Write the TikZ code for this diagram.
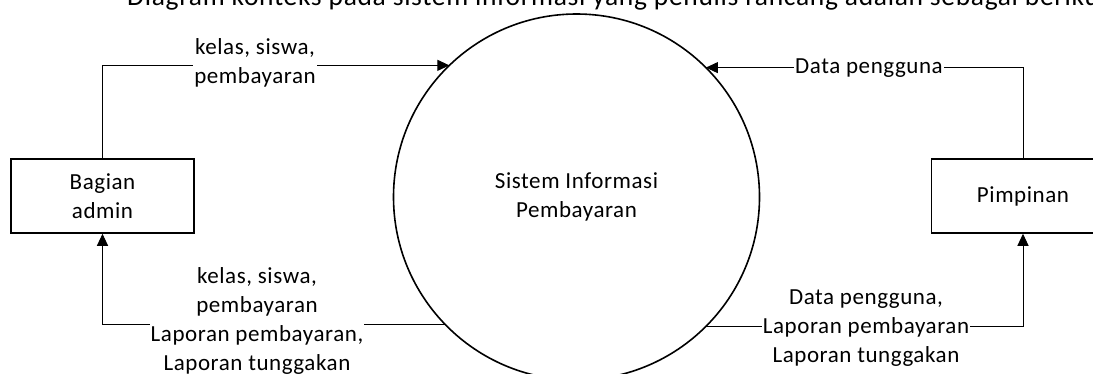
\documentclass[tikz,border=0pt]{standalone}
\usepackage{fontspec}
\setmainfont{Carlito}[LetterSpace=2.5]
\usetikzlibrary{arrows.meta}
\begin{document}
\begin{tikzpicture}[x=1pt,y=-1pt,
  every node/.style={font=\fontsize{23}{29}\selectfont, align=center},
  entity/.style={draw, line width=1.5pt, minimum width=183pt, minimum height=74pt, inner sep=0pt},
  proc/.style={draw, circle, line width=1.6pt, minimum size=366pt, inner sep=0pt, outer sep=0pt},
  flow/.style={line width=1pt, -{Triangle[length=12pt,width=11pt]}},
  lbl/.style={fill=white, inner sep=1pt}]
\useasboundingbox (0,0) rectangle (1093,373);
\node[anchor=base west, inner sep=0pt, font=\fontsize{27.5}{33}\selectfont] (title) at (127,5) {Diagram konteks pada sistem informasi yang penulis rancang adalah sebagai berikut};
\node[proc] (sys) at (576.5,197) {Sistem Informasi\\Pembayaran};
\node[entity] (admin) at (102.5,196) {Bagian\\admin};
\node[entity] (pim) at (1023,196) {Pimpinan};
\draw[flow] (admin.north) |- (sys.134.7);
\draw[flow] (pim.north) |- (sys.45.3);
\draw[flow] (sys.224.4) -| (admin.south);
\draw[flow] (sys.315.6) -| (pim.south);
\node[lbl] (l1) at (255,63) {kelas, siswa,\\pembayaran};
\node[lbl] (l2) at (869,68) {Data pengguna};
\node[lbl] (l3) at (257,321) {kelas, siswa,\\pembayaran\\Laporan pembayaran,\\Laporan tunggakan};
\node[lbl] (l4) at (866,328) {Data pengguna,\\Laporan pembayaran\\Laporan tunggakan};
\end{tikzpicture}
\end{document}
